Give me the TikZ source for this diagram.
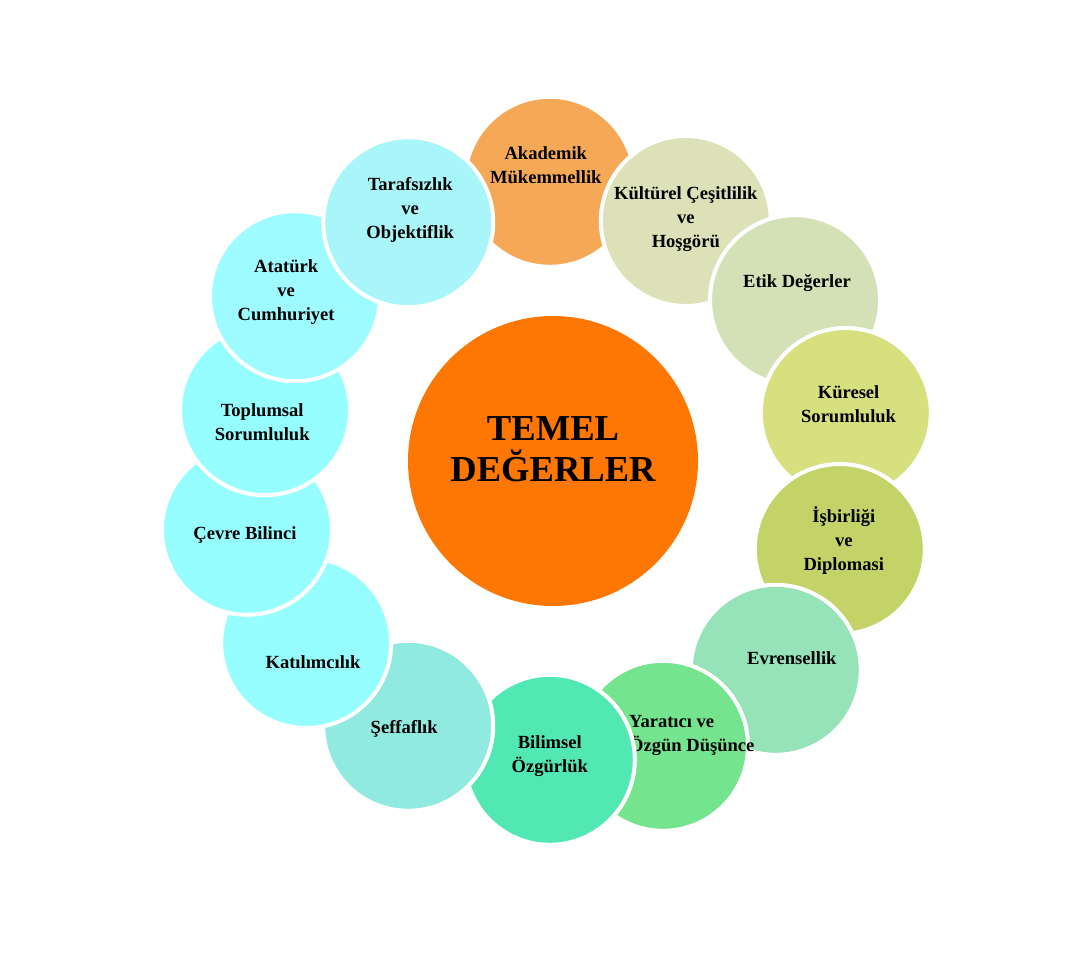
\documentclass[tikz,border=0pt]{standalone}
\usepackage{fontspec}
\setmainfont{Liberation Serif}
\usepackage{xcolor}
\usepackage{tikz}
\definecolor{corecolor}{RGB}{253,119,2}
\definecolor{akademikcolor}{RGB}{245,169,86}
\definecolor{kulturelcolor}{RGB}{220,225,183}
\definecolor{etikcolor}{RGB}{212,225,182}
\definecolor{kureselcolor}{RGB}{214,224,126}
\definecolor{isbirligicolor}{RGB}{196,211,104}
\definecolor{evrensellikcolor}{RGB}{150,226,185}
\definecolor{yaraticicolor}{RGB}{116,228,143}
\definecolor{bilimselcolor}{RGB}{82,232,180}
\definecolor{seffaflikcolor}{RGB}{145,234,223}
\definecolor{cyancolor}{RGB}{150,254,255}
\definecolor{ataturkcolor}{RGB}{158,251,255}
\definecolor{tarafsizlikcolor}{RGB}{168,246,250}
\tikzstyle{value} = [circle, minimum size=4.25cm, inner sep=0pt, draw=white, line width=0.1cm]
\tikzstyle{valuetext} = [text centered, align=center, inner sep=0pt, font=\fontsize{13.2}{17.1}\selectfont\bfseries]
\tikzstyle{coretext} = [text centered, align=center, inner sep=0pt, font=\fontsize{26}{29.2}\selectfont\bfseries]

\begin{document}
\begin{tikzpicture}

    \useasboundingbox (-13.825,-12.3) rectangle (13.175,11.525);

    \node (core) [circle, minimum size=7.25cm, fill=corecolor] at (0,0) {};
    \node (core_text) [coretext, yshift=0.3cm] at (core) {TEMEL\\DEĞERLER};

    % clockwise from the top, each circle over the previous one
    \node (akademik) [value, fill=akademikcolor] at (-0.08,6.98) {};
    \node (akademik_text) [valuetext, xshift=-0.1cm, yshift=0.42cm] at (akademik) {Akademik\\Mükemmellik};

    \node (kulturel) [value, fill=kulturelcolor] at (3.32,6.0) {};
    \node (kulturel_text) [valuetext, yshift=0.05cm] at (kulturel) {Kültürel Çeşitlilik\\ve\\Hoşgörü};

    \node (etik) [value, fill=etikcolor] at (6.05,4.02) {};
    \node (etik_text) [valuetext, xshift=0.05cm, yshift=0.42cm] at (etik) {Etik Değerler};

    \node (kuresel) [value, fill=kureselcolor] at (7.32,1.2) {};
    \node (kuresel_text) [valuetext, xshift=0.07cm, yshift=0.22cm] at (kuresel) {Küresel\\Sorumluluk};

    \node (isbirligi) [value, fill=isbirligicolor] at (7.17,-2.2) {};
    \node (isbirligi_text) [valuetext, xshift=0.1cm, yshift=0.22cm] at (isbirligi) {İşbirliği\\ve\\Diplomasi};

    \node (evrensellik) [value, fill=evrensellikcolor] at (5.57,-5.22) {};
    \node (evrensellik_text) [valuetext, xshift=0.4cm, yshift=0.3cm] at (evrensellik) {Evrensellik};

    \node (yaratici) [value, fill=yaraticicolor] at (2.75,-7.12) {};
    \node (yaratici_text) [valuetext, align=left, xshift=0.72cm, yshift=0.25cm] at (yaratici) {Yaratıcı ve\\Özgün Düşünce};

    \node (bilimsel) [value, fill=bilimselcolor] at (-0.08,-7.47) {};
    \node (bilimsel_text) [valuetext, yshift=0.1cm] at (bilimsel) {Bilimsel\\Özgürlük};

    \node (seffaflik) [value, fill=seffaflikcolor] at (-3.62,-6.62) {};
    \node (seffaflik_text) [valuetext, xshift=-0.1cm, yshift=-0.07cm] at (seffaflik) {Şeffaflık};

    \node (katilimcilik) [value, fill=cyancolor] at (-6.17,-4.55) {};
    \node (katilimcilik_text) [valuetext, xshift=0.17cm, yshift=-0.47cm] at (katilimcilik) {Katılımcılık};

    \node (cevre) [value, fill=cyancolor] at (-7.65,-1.72) {};
    \node (cevre_text) [valuetext, xshift=-0.05cm, yshift=-0.12cm] at (cevre) {Çevre Bilinci};

    \node (toplumsal) [value, fill=cyancolor] at (-7.2,1.27) {};
    \node (toplumsal_text) [valuetext, xshift=-0.07cm, yshift=-0.3cm] at (toplumsal) {Toplumsal\\Sorumluluk};

    \node (ataturk) [value, fill=ataturkcolor] at (-6.45,4.12) {};
    \node (ataturk_text) [valuetext, xshift=-0.22cm, yshift=0.1cm] at (ataturk) {Atatürk\\ve\\Cumhuriyet};

    \node (tarafsizlik) [value, fill=tarafsizlikcolor] at (-3.62,5.97) {};
    \node (tarafsizlik_text) [valuetext, xshift=0.05cm, yshift=0.3cm] at (tarafsizlik) {Tarafsızlık\\ve\\Objektiflik};

\end{tikzpicture}
\end{document}
